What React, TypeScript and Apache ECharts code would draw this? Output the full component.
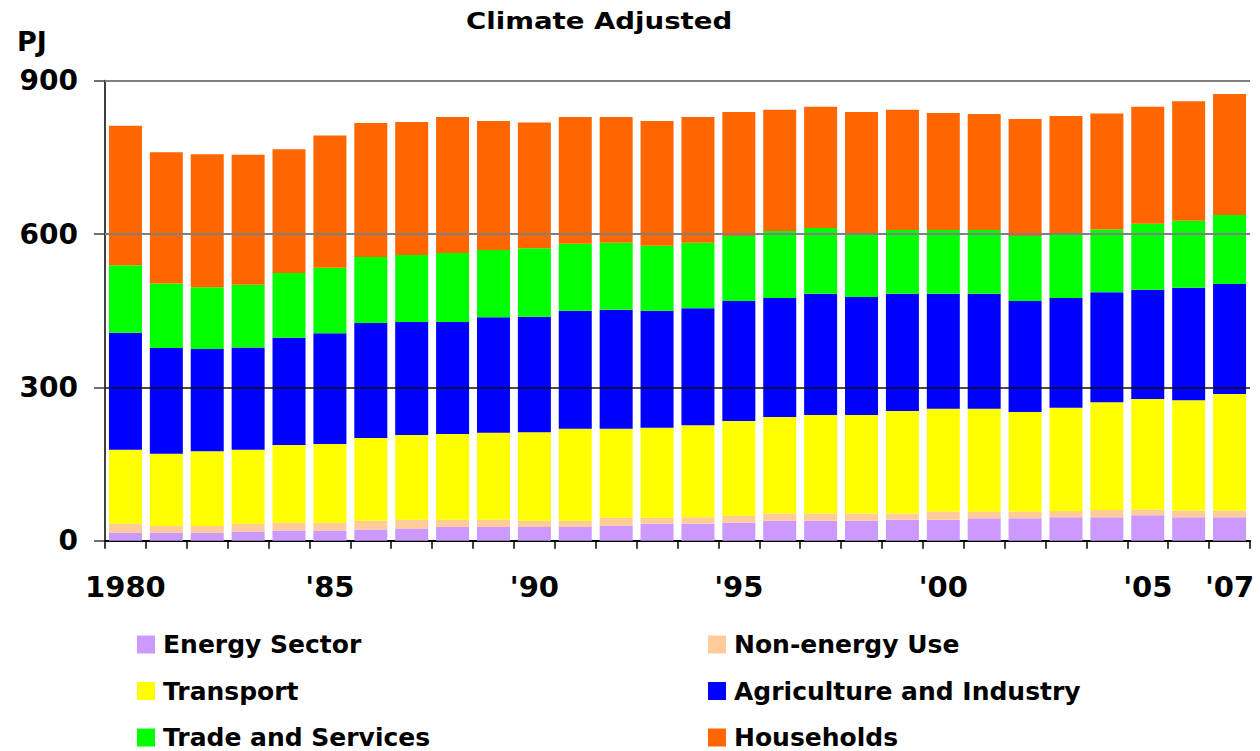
import React, { useEffect, useRef } from "react";
import * as echarts from "echarts";

// Years on the category axis
const years = [
  "1980", "1981", "1982", "1983", "1984", "1985", "1986", "1987", "1988", "1989",
  "1990", "1991", "1992", "1993", "1994", "1995", "1996", "1997", "1998", "1999",
  "2000", "2001", "2002", "2003", "2004", "2005", "2006", "2007",
];

// Only these years get a printed label
const yearLabels: Record<string, string> = {
  "1980": "1980",
  "1985": "'85",
  "1990": "'90",
  "1995": "'95",
  "2000": "'00",
  "2005": "'05",
  "2007": "'07",
};

// Energy use by sector, PJ (climate adjusted)
const energySector = [15, 15, 15, 18, 20, 20, 22, 24, 27, 27, 27, 27, 29, 33, 33, 35, 39, 39, 39, 41, 41, 44, 44, 46, 46, 50, 46, 46];
const nonEnergyUse = [18, 14, 14, 15, 15, 15, 17, 17, 14, 14, 12, 12, 16, 12, 13, 14, 14, 14, 14, 12, 16, 13, 13, 12, 14, 11, 13, 13];
const transport = [145, 141, 146, 145, 152, 154, 162, 166, 168, 170, 173, 180, 174, 176, 180, 185, 189, 193, 193, 201, 201, 201, 195, 202, 211, 216, 216, 228];
const agricultureIndustry = [229, 207, 200, 200, 210, 217, 225, 221, 219, 226, 226, 231, 233, 229, 229, 235, 233, 237, 231, 229, 225, 225, 217, 215, 215, 214, 220, 215];
const tradeServices = [132, 126, 121, 123, 127, 128, 129, 131, 135, 132, 134, 131, 131, 127, 128, 127, 131, 129, 125, 125, 125, 125, 127, 127, 123, 129, 131, 135];
const households = [273, 257, 260, 254, 242, 259, 262, 260, 266, 252, 246, 248, 246, 244, 246, 243, 237, 237, 237, 235, 229, 227, 229, 229, 227, 229, 234, 237];

// Y axis ticks
const yTicks = [0, 300, 600, 900];

// Legend columns
const legendLeftColumn = ["Energy Sector", "Transport", "Trade and Services"];
const legendRightColumn = ["Non-energy Use", "Agriculture and Industry", "Households"];

const FONT = "'DejaVu Sans', Verdana, sans-serif";

const seriesDefs = [
  { name: "Energy Sector", data: energySector, color: "#CC99FF" },
  { name: "Non-energy Use", data: nonEnergyUse, color: "#FFCC99" },
  { name: "Transport", data: transport, color: "#FFFF00" },
  { name: "Agriculture and Industry", data: agricultureIndustry, color: "#0000FF" },
  { name: "Trade and Services", data: tradeServices, color: "#00FF00" },
  { name: "Households", data: households, color: "#FF6600" },
];

export default function App() {
  const ref = useRef<HTMLDivElement>(null);

  useEffect(() => {
    document.body.style.margin = "0";
    if (!ref.current) return;
    const chart = echarts.init(ref.current, null, { renderer: "svg" });

    const legendText = {
      fontFamily: FONT,
      fontWeight: "bold" as const,
      fontSize: 25,
      color: "#000",
      lineHeight: 25,
      padding: [0, 0, 0, 3],
    };

    const legendBase = {
      orient: "vertical" as const,
      top: 632,
      height: 140,
      padding: 0,
      itemWidth: 18,
      itemHeight: 18,
      itemGap: 21.5,
      icon: "rect",
      selectedMode: false,
      textStyle: legendText,
    };

    const series: any[] = seriesDefs.map((s) => ({
      name: s.name,
      type: "bar",
      stack: "total",
      data: s.data,
      barWidth: 33,
      itemStyle: { color: s.color },
      emphasis: { disabled: true },
      z: 2,
    }));

    // Horizontal reference lines drawn over the bars
    series[series.length - 1].markLine = {
      silent: true,
      symbol: "none",
      label: { show: false },
      animation: false,
      data: yTicks
        .filter((v) => v > 0)
        .map((v) => ({
          yAxis: v,
          lineStyle: { color: v === 300 ? "#111111" : "#808080", width: v === 300 ? 1.5 : 2, type: "solid" },
        })),
    };

    chart.setOption({
      animation: false,
      backgroundColor: "#ffffff",
      grid: { left: 105, right: 10, top: 80.7, bottom: 210.3, containLabel: false },
      graphic: [
        {
          type: "text",
          left: 466,
          top: 9,
          scaleX: 1.2,
          style: {
            text: "Climate Adjusted",
            font: `bold 23px ${FONT}`,
            fill: "#000",
          },
        },
        {
          type: "text",
          left: 17,
          top: 28,
          style: {
            text: "PJ",
            font: `bold 27px ${FONT}`,
            fill: "#000",
          },
        },
      ],
      legend: [
        { ...legendBase, left: 137, data: legendLeftColumn },
        { ...legendBase, left: 708, data: legendRightColumn },
      ],
      xAxis: {
        type: "category",
        data: years,
        boundaryGap: true,
        axisLine: { show: true, lineStyle: { color: "#000", width: 2 } },
        axisTick: { show: true, interval: 0, length: 8, lineStyle: { color: "#000", width: 1.5 } },
        axisLabel: {
          interval: 0,
          margin: 32,
          fontFamily: FONT,
          fontWeight: "bold",
          fontSize: 29,
          color: "#000",
          formatter: (v: string) => yearLabels[v] ?? "",
        },
        splitLine: { show: false },
      },
      yAxis: {
        type: "value",
        min: 0,
        max: 900,
        interval: 300,
        axisLine: { show: true, lineStyle: { color: "#404040", width: 2 } },
        axisTick: { show: true, length: 11, lineStyle: { color: "#404040", width: 1.5 } },
        axisLabel: {
          margin: 27,
          fontFamily: FONT,
          fontWeight: "bold",
          fontSize: 28,
          color: "#000",
        },
        splitLine: { show: false },
      },
      series,
    });

    return () => chart.dispose();
  }, []);

  return <div ref={ref} style={{ width: 1260, height: 751 }} />;
}
